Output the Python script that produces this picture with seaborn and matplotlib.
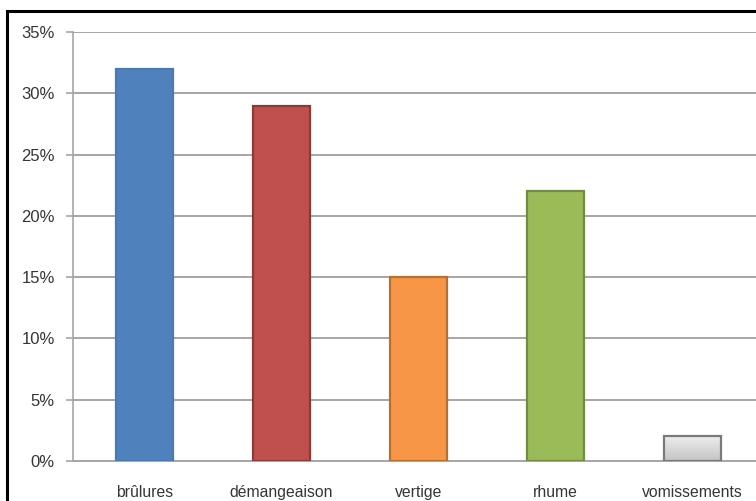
import matplotlib
matplotlib.use("Agg")
import matplotlib.pyplot as plt
import seaborn as sns
import numpy as np
import pandas as pd
from matplotlib.patches import Rectangle
from matplotlib.colors import LinearSegmentedColormap
from matplotlib.ticker import FuncFormatter, MultipleLocator

categories = ["brûlures", "démangeaison", "vertige", "rhume", "vomissements"]
values = [32, 29, 15, 22, 2]
fill_colors = ["#4f81bd", "#c0504d", "#f79646", "#9bbb59", "#d6d6d6"]
edge_colors = ["#4a7ab4", "#8a3a37", "#b8702f", "#728c43", "#7a7a7a"]

df = pd.DataFrame({"symptome": categories, "pct": values})

sns.set_style("white")
plt.rcParams["font.family"] = ["Liberation Sans", "DejaVu Sans"]

W, H = 756, 501
fig = plt.figure(figsize=(W / 100, H / 100), dpi=100)
ax = fig.add_axes([73 / W, 1 - 461 / H, 683 / W, 429 / H])

sns.barplot(data=df, x="symptome", y="pct", hue="symptome",
            palette=fill_colors, legend=False, width=0.42, ax=ax,
            saturation=1)
for patch, ec in zip(ax.patches, edge_colors):
    patch.set_edgecolor(ec)
    patch.set_linewidth(1.6)
    patch.set_zorder(3)

# soft vertical gradient on the grey bar
grey_bar = ax.patches[-1]
bx, by = grey_bar.get_x(), grey_bar.get_y()
bw, bh = grey_bar.get_width(), grey_bar.get_height()
grad = LinearSegmentedColormap.from_list("greyfade", ["#c4c4c4", "#ededed"])
img = ax.imshow(np.linspace(0, 1, 64).reshape(-1, 1), cmap=grad,
                extent=[bx, bx + bw, by, by + bh], origin="lower",
                aspect="auto", zorder=3.5)
img.set_clip_path(grey_bar)
grey_bar.set_facecolor("none")
grey_bar.set_zorder(4)

ax.set_xlim(-0.522, 4.464)
ax.set_ylim(0, 35)
ax.yaxis.set_major_locator(MultipleLocator(5))
ax.yaxis.set_major_formatter(FuncFormatter(lambda v, _: f"{int(v)}%"))
ax.grid(axis="y", color="#a6a6a6", linewidth=1.4, zorder=0)
ax.set_axisbelow(True)

ax.set_xlabel("")
ax.set_ylabel("")
for side in ["top", "right"]:
    ax.spines[side].set_visible(False)
ax.spines["left"].set_color("#a6a6a6")
ax.spines["bottom"].set_color("#a6a6a6")
ax.spines["left"].set_linewidth(1.2)
ax.spines["bottom"].set_linewidth(1.4)

# x ticks at category boundaries, labels centered under bars
ax.set_xticks([i + 0.5 for i in range(4)])
ax.set_xticklabels([])
ax.set_xticks(range(5), minor=True)
ax.set_xticklabels(categories, minor=True)
ax.tick_params(axis="x", which="major", length=3.6, width=1.2, color="#a6a6a6",
               direction="out")
ax.tick_params(axis="x", which="minor", length=0, pad=17, labelsize=11.3,
               labelcolor="#353535")
ax.tick_params(axis="y", length=5, width=1.2, color="#a6a6a6", pad=8,
               labelsize=12, labelcolor="#353535", left=True)

# black frame around the chart area
fig.patches.append(Rectangle((7 / W, -0.05), 1.2, 1 - 11 / H + 0.05,
                             transform=fig.transFigure, fill=False,
                             edgecolor="black", linewidth=2.2))

fig.savefig("out.png", dpi=100)
